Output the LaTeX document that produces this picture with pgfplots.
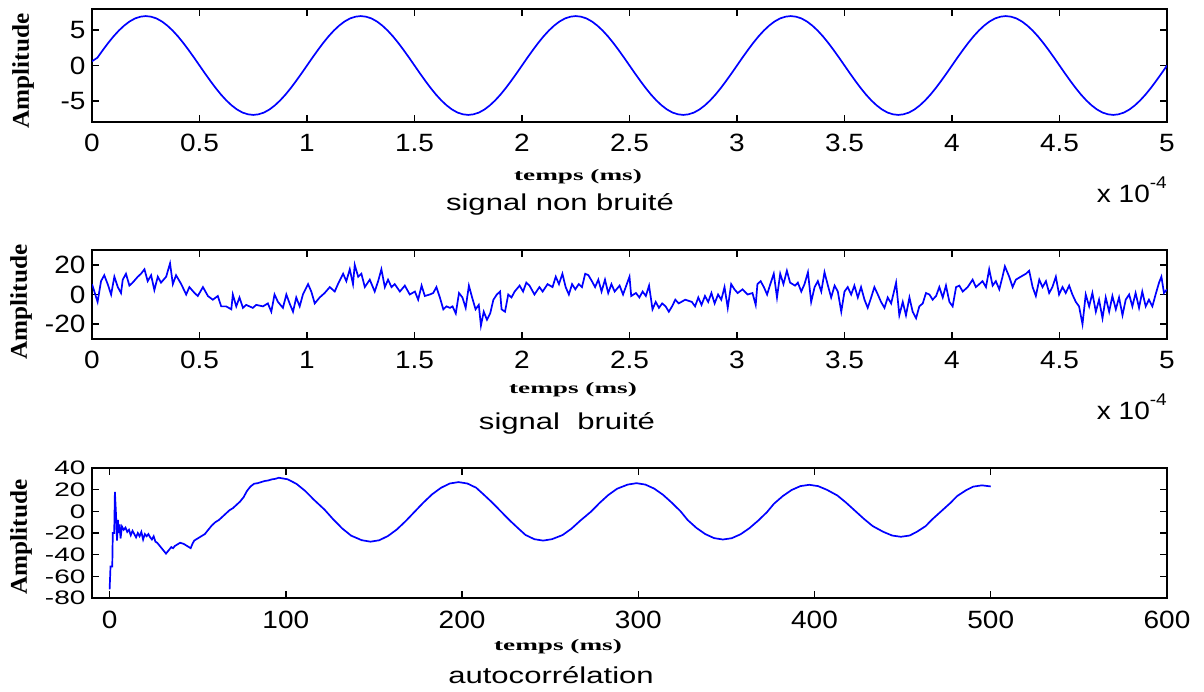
\documentclass[border=0pt]{standalone}
\usepackage{pgfplots}
\pgfplotsset{compat=1.18}
\usepackage{fontspec}
\setmainfont{Liberation Sans}
\newfontfamily\tickf[FakeStretch=1.12]{Liberation Sans}
\newfontfamily\titf[FakeStretch=1.35]{Liberation Sans}
\newfontfamily\labf[FakeStretch=1.05]{Liberation Serif}
\newfontfamily\xlabf[FakeStretch=1.7]{Liberation Serif}
\definecolor{mblue}{RGB}{0,0,255}
\pgfplotsset{
  mystyle/.style={
    scale only axis, width=1075pt,
    axis line style={black, line width=1.4pt},
    tick style={black, line width=1.4pt},
    tick align=inside, major tick length=7pt,
    tick pos=both,
    xticklabel pos=lower, yticklabel pos=left,
    tick label style={font=\tickf\fontsize{25}{25}\selectfont},
    /pgf/number format/assume math mode=true,
    xticklabel style={yshift=-9pt},
    yticklabel style={xshift=-3pt},
    clip=true,
  }
}
\begin{document}
\begin{tikzpicture}[x=1pt,y=1pt]
\path[use as bounding box] (0,0) rectangle (1204,-691);
% ---------- panel 1 ----------
\begin{axis}[mystyle, height=113pt, at={(92pt,-9pt)}, anchor=north west,
  xmin=0, xmax=5, ymin=-8, ymax=8,
  xtick={0,0.5,1,1.5,2,2.5,3,3.5,4,4.5,5}, ytick={-5,0,5}]
\addplot[mblue, line width=1.7pt, mark=none] coordinates {
(0,0.6)(0.025,1.1)(0.05,2.16)(0.075,3.18)(0.1,4.12)(0.125,4.95)(0.15,5.66)(0.175,6.24)(0.2,6.66)(0.225,6.91)(0.25,7)(0.275,6.91)(0.3,6.66)(0.325,6.24)(0.35,5.66)(0.375,4.95)(0.4,4.12)(0.425,3.18)(0.45,2.16)(0.475,1.1)(0.5,0)(0.525,-1.1)(0.55,-2.16)(0.575,-3.18)(0.6,-4.12)(0.625,-4.95)(0.65,-5.66)(0.675,-6.24)(0.7,-6.66)(0.725,-6.91)(0.75,-7)(0.775,-6.91)(0.8,-6.66)(0.825,-6.24)(0.85,-5.66)(0.875,-4.95)(0.9,-4.12)(0.925,-3.18)(0.95,-2.16)(0.975,-1.1)
(1,0)(1.025,1.1)(1.05,2.16)(1.075,3.18)(1.1,4.12)(1.125,4.95)(1.15,5.66)(1.175,6.24)(1.2,6.66)(1.225,6.91)(1.25,7)(1.275,6.91)(1.3,6.66)(1.325,6.24)(1.35,5.66)(1.375,4.95)(1.4,4.12)(1.425,3.18)(1.45,2.16)(1.475,1.1)(1.5,0)(1.525,-1.1)(1.55,-2.16)(1.575,-3.18)(1.6,-4.12)(1.625,-4.95)(1.65,-5.66)(1.675,-6.24)(1.7,-6.66)(1.725,-6.91)(1.75,-7)(1.775,-6.91)(1.8,-6.66)(1.825,-6.24)(1.85,-5.66)(1.875,-4.95)(1.9,-4.12)(1.925,-3.18)(1.95,-2.16)(1.975,-1.1)
(2,0)(2.025,1.1)(2.05,2.16)(2.075,3.18)(2.1,4.12)(2.125,4.95)(2.15,5.66)(2.175,6.24)(2.2,6.66)(2.225,6.91)(2.25,7)(2.275,6.91)(2.3,6.66)(2.325,6.24)(2.35,5.66)(2.375,4.95)(2.4,4.12)(2.425,3.18)(2.45,2.16)(2.475,1.1)(2.5,0)(2.525,-1.1)(2.55,-2.16)(2.575,-3.18)(2.6,-4.12)(2.625,-4.95)(2.65,-5.66)(2.675,-6.24)(2.7,-6.66)(2.725,-6.91)(2.75,-7)(2.775,-6.91)(2.8,-6.66)(2.825,-6.24)(2.85,-5.66)(2.875,-4.95)(2.9,-4.12)(2.925,-3.18)(2.95,-2.16)(2.975,-1.1)
(3,0)(3.025,1.1)(3.05,2.16)(3.075,3.18)(3.1,4.12)(3.125,4.95)(3.15,5.66)(3.175,6.24)(3.2,6.66)(3.225,6.91)(3.25,7)(3.275,6.91)(3.3,6.66)(3.325,6.24)(3.35,5.66)(3.375,4.95)(3.4,4.12)(3.425,3.18)(3.45,2.16)(3.475,1.1)(3.5,0)(3.525,-1.1)(3.55,-2.16)(3.575,-3.18)(3.6,-4.12)(3.625,-4.95)(3.65,-5.66)(3.675,-6.24)(3.7,-6.66)(3.725,-6.91)(3.75,-7)(3.775,-6.91)(3.8,-6.66)(3.825,-6.24)(3.85,-5.66)(3.875,-4.95)(3.9,-4.12)(3.925,-3.18)(3.95,-2.16)(3.975,-1.1)
(4,0)(4.025,1.1)(4.05,2.16)(4.075,3.18)(4.1,4.12)(4.125,4.95)(4.15,5.66)(4.175,6.24)(4.2,6.66)(4.225,6.91)(4.25,7)(4.275,6.91)(4.3,6.66)(4.325,6.24)(4.35,5.66)(4.375,4.95)(4.4,4.12)(4.425,3.18)(4.45,2.16)(4.475,1.1)(4.5,0)(4.525,-1.1)(4.55,-2.16)(4.575,-3.18)(4.6,-4.12)(4.625,-4.95)(4.65,-5.66)(4.675,-6.24)(4.7,-6.66)(4.725,-6.91)(4.75,-7)(4.775,-6.91)(4.8,-6.66)(4.825,-6.24)(4.85,-5.66)(4.875,-4.95)(4.9,-4.12)(4.925,-3.18)(4.95,-2.16)(4.975,-1.1)(5,0)
};
\end{axis}
% ---------- panel 2 ----------
\begin{axis}[mystyle, height=89pt, at={(92pt,-250pt)}, anchor=north west,
  xmin=0, xmax=5, ymin=-30, ymax=30,
  xtick={0,0.5,1,1.5,2,2.5,3,3.5,4,4.5,5}, ytick={-20,0,20}]
\addplot[mblue, line width=1.7pt, mark=none] coordinates {
(0,7)(0.011,2)(0.026,-5)(0.042,9)(0.057,13)(0.073,7)(0.089,0)(0.104,12)(0.120,5)(0.135,1)(0.143,10)(0.158,14)(0.174,6)(0.189,8)(0.213,12)(0.228,14)(0.244,17)(0.259,9)(0.275,13)(0.290,3)(0.306,12)(0.321,8)(0.345,12)(0.363,21)(0.376,7)(0.391,13)(0.415,7)(0.438,0)(0.453,5)(0.477,1)(0.492,-1)(0.516,5)(0.539,-1)(0.562,-3.5)(0.585,-1)(0.601,-8)(0.624,-8)(0.648,-10)(0.655,0)(0.671,-8)(0.686,-2)(0.702,-9)(0.717,-7)(0.748,-9)(0.764,-7)(0.795,-8)(0.818,-6)(0.834,-11.6)(0.849,0)(0.865,-5)(0.888,-9)(0.904,0)(0.919,-6)(0.935,-11.6)(0.950,-2)(0.966,-8)(0.981,0)(1.005,7)(1.020,2)(1.036,-6)(1.059,-2)(1.082,1)(1.106,5)(1.129,2)(1.144,7)(1.168,14)(1.183,9)(1.199,17)(1.214,7)(1.222,20)(1.238,12)(1.253,14)(1.269,5)(1.292,10)(1.315,2)(1.331,9)(1.346,17)(1.362,5)(1.377,10)(1.393,5)(1.408,7)(1.432,2)(1.455,6)(1.478,0)(1.502,2)(1.517,-3.5)(1.533,6)(1.548,-1)(1.571,0)(1.587,1)(1.602,5)(1.618,-2)(1.634,-10)(1.649,-8)(1.665,-9)
(1.677,-8)(1.692,-12.8)(1.707,1)(1.723,-2)(1.738,-9)(1.753,6)(1.768,-2)(1.784,-10)(1.799,-7)(1.809,-21)(1.822,-11.6)(1.837,-17)(1.852,-12.8)(1.867,-3.5)(1.883,0)(1.898,2)(1.905,-10)(1.921,-11.6)(1.936,0)(1.951,-2)(1.966,2)(1.989,6)(2.005,2)(2.020,8)(2.035,6)(2.058,0)(2.081,5)(2.096,2)(2.119,7)(2.142,5)(2.157,12)(2.172,7)(2.188,14)(2.203,5)(2.218,0)(2.233,7)(2.248,3.5)(2.264,7)(2.279,5)(2.294,14)(2.309,13)(2.325,9)(2.340,5)(2.355,10)(2.370,2)(2.386,10)(2.401,1)(2.416,7)(2.431,2)(2.454,6)(2.470,0)(2.485,6)(2.500,12)(2.508,-1)(2.530,1)(2.546,-2)(2.561,2)(2.576,-1)(2.591,6)(2.607,-10)(2.622,-5)(2.637,-9)(2.652,-6)(2.668,-8)(2.683,-11.6)(2.698,-8)(2.713,-3.5)(2.729,-6)(2.759,-3.5)(2.790,-5)(2.805,-8)(2.820,-2)(2.835,-7)(2.851,-1)(2.866,-5)(2.881,1)(2.896,-6)(2.912,0)(2.927,-3.5)(2.942,5)(2.957,-9)(2.973,7)(2.988,3.5)(3.003,1)(3.026,3.5)(3.049,0)(3.072,1)(3.087,-7)(3.095,7)(3.110,9)(3.125,5)(3.140,0)(3.155,7)(3.171,14)(3.186,-2)(3.201,14)(3.216,7)(3.232,16)(3.247,8)(3.270,6)
(3.283,8)(3.299,2)(3.314,7)(3.330,15)(3.345,-5)(3.361,5)(3.376,9)(3.392,2)(3.407,15)(3.423,6)(3.438,-2)(3.454,6)(3.469,2)(3.485,-11.6)(3.500,2)(3.515,5)(3.531,0)(3.546,6)(3.562,-2)(3.577,5)(3.593,-3.5)(3.608,-9)(3.624,-2)(3.639,5)(3.655,0)(3.670,-5)(3.686,-9)(3.701,-2)(3.717,-6)(3.740,8)(3.755,-14)(3.771,-5)(3.786,-14)(3.802,-2)(3.817,-11.6)(3.833,-16)(3.848,-8)(3.864,-6)(3.879,1)(3.895,0)(3.910,-3.5)(3.926,-1)(3.941,5)(3.957,-2)(3.972,6)(3.988,-5)(4.003,-8)(4.019,5)(4.034,6)(4.050,2)(4.073,5)(4.096,10)(4.111,5)(4.127,7)(4.142,9)(4.158,5)(4.173,17)(4.189,6)(4.204,9)(4.220,3.5)(4.235,12)(4.246,19)(4.266,12)(4.282,5)(4.297,10)(4.320,12)(4.344,14)(4.359,16)(4.375,5)(4.390,-1)(4.406,10)(4.421,5)(4.437,9)(4.452,1)(4.467,5)(4.483,12)(4.498,0)(4.514,5)(4.529,1)(4.545,6)(4.560,0)(4.576,-5)(4.591,-8)(4.607,-20)(4.622,0)(4.638,-8)(4.653,1)(4.669,-11.6)(4.684,-3.5)(4.700,-16)(4.715,-2)(4.731,-11.6)(4.746,-1)(4.762,-10)(4.777,-2)(4.793,-14)(4.808,-3.5)(4.824,0)(4.839,-8)(4.854,1)(4.870,-9)(4.885,2)(4.901,-8)(4.916,-3.5)(4.932,-8)(4.947,0)(4.963,8)(4.974,12)(4.986,1)(5.0,3.5)
};
\end{axis}
% ---------- panel 3 ----------
\begin{axis}[mystyle, height=130pt, at={(92pt,-468pt)}, anchor=north west,
  xmin=-10, xmax=600, ymin=-80, ymax=40,
  xtick={0,100,200,300,400,500,600}, ytick={-80,-60,-40,-20,0,20,40},
  yticklabel={\scalebox{1}[0.78]{\pgfmathprintnumber{\tick}}}]
\addplot[mblue, line width=1.7pt, mark=none] coordinates {
(0,-72)(0.5,-51)(1.5,-51)(1.8,-20)(2.6,-20)(3,18)(3.6,-2)(4.2,-27)(4.7,-8)(5.2,-20)(5.7,-12)(6.2,-25)(7,-14)(8,-17)(9,-15)(10,-19)(11,-17)(12,-22)(13,-18)(14,-21)(15,-24)(16,-20)(17,-23)(18,-19)(19,-26)(20,-21)(21,-23)(22,-21)(23,-24)(24,-26)(25,-23)(26,-28)(27,-29)(28,-31)(29,-33)(30,-35)(31,-37)(32,-39)(33,-37)(34,-35)(35,-33)(36,-34)(37,-32)(38,-31)(40,-29)(42,-30)(44,-32)(46,-34)(47,-30)(48,-27)(50,-25)(52,-23)(54,-21)(56,-17)(58,-13)(60,-10)(62,-8)(64,-5)(66,-2)(68,1)(70,3)(72,6)(74,9)(76,13)(78,19)(80,23)(82,25.5)(84,26)(86,27)(88,28)(90,28.5)(92,29.5)(94,30)(96,31)
(101,29.6)(106,25.4)(111,18.8)(116,10.6)(122,1.5)(127,-7.6)(132,-15.8)(137,-22.4)(143,-26.6)(148,-28)
(153,-26.7)(158,-22.7)(163,-16.7)(168,-9)(173,-0.5)(178,8)(183,15.7)(188,21.7)(193,25.7)(198,27)
(203,25.7)(208,21.8)(212,15.9)(217,8.3)(222,0)(227,-8.3)(232,-15.9)(236,-21.8)(241,-25.7)(246,-27)
(251,-25.7)(257,-21.9)(262,-16.1)(267,-8.7)(273,-0.5)(278,7.7)(283,15.1)(288,20.9)(294,24.7)(299,26)
(304,24.7)(309,21)(314,15.3)(319,8)(324,0)(328,-8)(333,-15.3)(338,-21)(343,-24.7)(348,-26)
(353,-24.8)(358,-21.2)(363,-15.6)(368,-8.6)(373,-0.75)(377,7.05)(382,14.1)(387,19.7)(392,23.3)(397,24.5)
(402,23.3)(407,19.9)(413,14.6)(418,7.9)(423,0.5)(428,-6.9)(433,-13.6)(439,-18.9)(444,-22.3)(449,-23.5)
(454,-22.3)(458,-18.95)(463,-13.7)(467,-7.1)(472,0.25)(477,7.6)(481,14.2)(486,19.5)(490,22.8)(495,24)(500,23)
};
\end{axis}
% ---------- labels ----------
\tikzset{amp/.style={rotate=90, font=\labf\bfseries\fontsize{24}{24}\selectfont, inner sep=0pt},
  xl/.style={anchor=base, font=\xlabf\bfseries\fontsize{16}{16}\selectfont, inner sep=0pt},
  tl/.style={anchor=base, font=\titf\fontsize{23}{23}\selectfont, inner sep=0pt},
  sc/.style={anchor=base east, font=\tickf\fontsize{25}{25}\selectfont, inner sep=0pt}}
\node[amp] at (23,-71) {Amplitude};
\node[amp] at (21,-302) {Amplitude};
\node[amp] at (21,-537) {Amplitude};
\node[xl] at (578,-180) {temps (ms)};
\node[xl] at (573,-393) {temps (ms)};
\node[xl] at (558,-650) {temps (ms)};
\node[tl] at (560,-210) {signal non bruité};
\node[tl] at (567,-429) {signal\ \ bruité};
\node[tl] at (551,-683) {autocorrélation};
\node[sc] at (1167,-202) {x 10\raisebox{0.55em}{\fontsize{17}{17}\selectfont -4}};
\node[sc] at (1167,-419) {x 10\raisebox{0.55em}{\fontsize{17}{17}\selectfont -4}};
\end{tikzpicture}
\end{document}
